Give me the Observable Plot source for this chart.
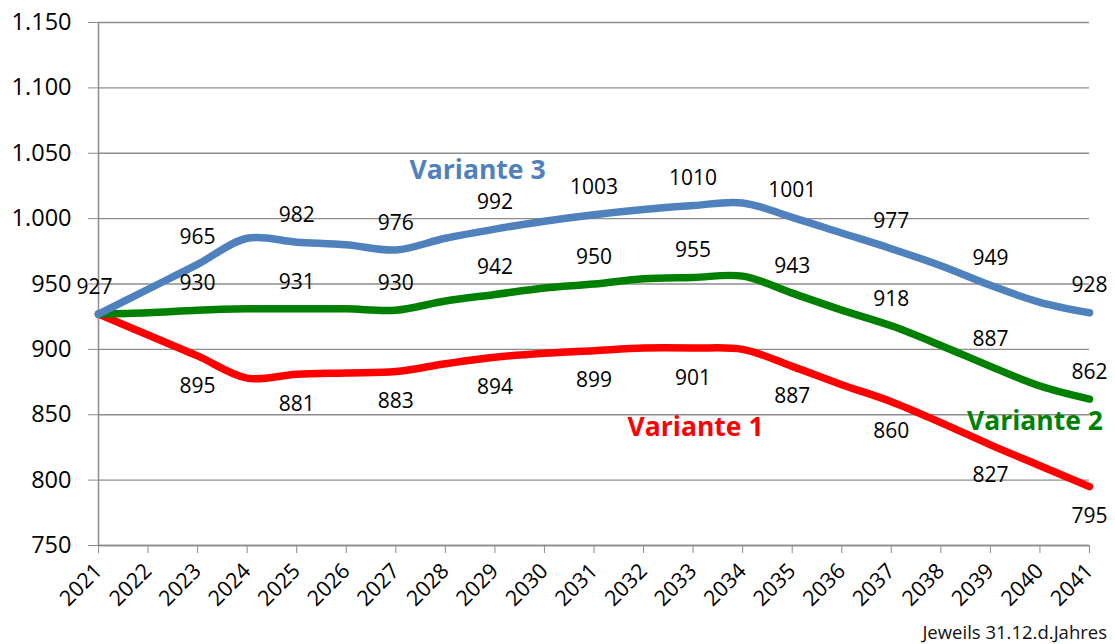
<!DOCTYPE html>
<html>
<head>
<meta charset="utf-8">
<script src="https://cdn.jsdelivr.net/npm/d3@7"></script>
<script src="https://cdn.jsdelivr.net/npm/@observablehq/plot@0.6"></script>
<style>
  html, body { margin: 0; padding: 0; background: #fff; }
  #wrap { width: 1115px; position: relative; }
  #caption { font-family: "Open Sans", sans-serif; font-size: 18.5px; color: #111; text-align: right; padding-right: 8px; height: 24px; line-height: 24px; }
</style>
</head>
<body>
<div id="wrap"><div id="chart"></div><div id="caption">Jeweils 31.12.d.Jahres</div></div>
<script>
const years = [2021,2022,2023,2024,2025,2026,2027,2028,2029,2030,2031,2032,2033,2034,2035,2036,2037,2038,2039,2040,2041];
const variante1 = [927,911,895,878,881,882,883,889,894,897,899,901,901,900,887,873,860,844,827,811,795];
const variante2 = [927,928,930,931,931,931,930,937,942,947,950,954,955,956,943,930,918,903,887,872,862];
const variante3 = [927,946,965,985,982,980,976,985,992,998,1003,1007,1010,1012,1001,989,977,964,949,936,928];
const seriesNames = ["Variante 1","Variante 2","Variante 3"];
const seriesColors = ["#ff0000","#008000","#4f81bd"];
const yTicks = [750,800,850,900,950,1000,1050,1100,1150];

const de = d3.formatLocale({decimal: ",", thousands: ".", grouping: [3], currency: ["", " €"]});
const fmt = de.format(",d");

const seriesValues = [variante1, variante2, variante3];
const rows = [];
seriesValues.forEach((vals, s) => years.forEach((yr, i) => rows.push({series: seriesNames[s], year: yr, value: vals[i]})));
const labelRows = rows.filter(d => d.year % 2 === 1 && d.year > 2021);
const startLabel = rows.filter(d => d.year === 2021 && d.series === "Variante 3");

const chart = Plot.plot({
  width: 1115,
  height: 620,
  marginLeft: 98,
  marginRight: 26,
  marginTop: 22,
  marginBottom: 75,
  style: {fontFamily: "Open Sans, sans-serif", fontSize: "20px", color: "#000", background: "#fff"},
  x: {domain: [2021, 2041]},
  y: {domain: [750, 1150]},
  color: {domain: seriesNames, range: seriesColors},
  marks: [
    Plot.gridY(yTicks, {stroke: "#8c8c8c", strokeOpacity: 1, strokeWidth: 1.3}),
    Plot.ruleX([2021], {stroke: "#8c8c8c", strokeWidth: 1.5}),
    Plot.ruleY([750], {stroke: "#8c8c8c", strokeWidth: 1.5}),
    Plot.axisY(yTicks, {tickSize: 10, tickPadding: 17, tickFormat: fmt, stroke: "#8c8c8c", fontSize: 23.5, fill: "#000", label: null}),
    Plot.axisX(years, {tickSize: 8, tickPadding: 14, tickRotate: -45, tickFormat: d => String(d), stroke: "#8c8c8c", fontSize: 21.5, fill: "#000", label: null}),
    Plot.line(rows, {x: "year", y: "value", z: "series", stroke: "series", strokeWidth: 7.5, curve: "catmull-rom"}),
    Plot.text(labelRows.filter(d => d.series !== "Variante 1"), {x: "year", y: "value", text: d => String(d.value), dy: -27, fill: "#000", fontSize: 21}),
    Plot.text(labelRows.filter(d => d.series === "Variante 1"), {x: "year", y: "value", text: d => String(d.value), dy: 30, fill: "#000", fontSize: 21}),
    Plot.text(startLabel, {x: "year", y: "value", text: d => String(d.value), dy: -27, dx: -4, fill: "#000", fontSize: 21}),
    Plot.text([{x: 2028.65, y: 1037, t: "Variante 3"}], {x: "x", y: "y", text: "t", fill: "#4f81bd", fontWeight: "bold", fontSize: 26.5}),
    Plot.text([{x: 2039.9, y: 845, t: "Variante 2"}], {x: "x", y: "y", text: "t", fill: "#008000", fontWeight: "bold", fontSize: 26.5}),
    Plot.text([{x: 2033.05, y: 840, t: "Variante 1"}], {x: "x", y: "y", text: "t", fill: "#ff0000", fontWeight: "bold", fontSize: 26.5})
  ]
});
document.getElementById("chart").appendChild(chart);
</script>
</body>
</html>
